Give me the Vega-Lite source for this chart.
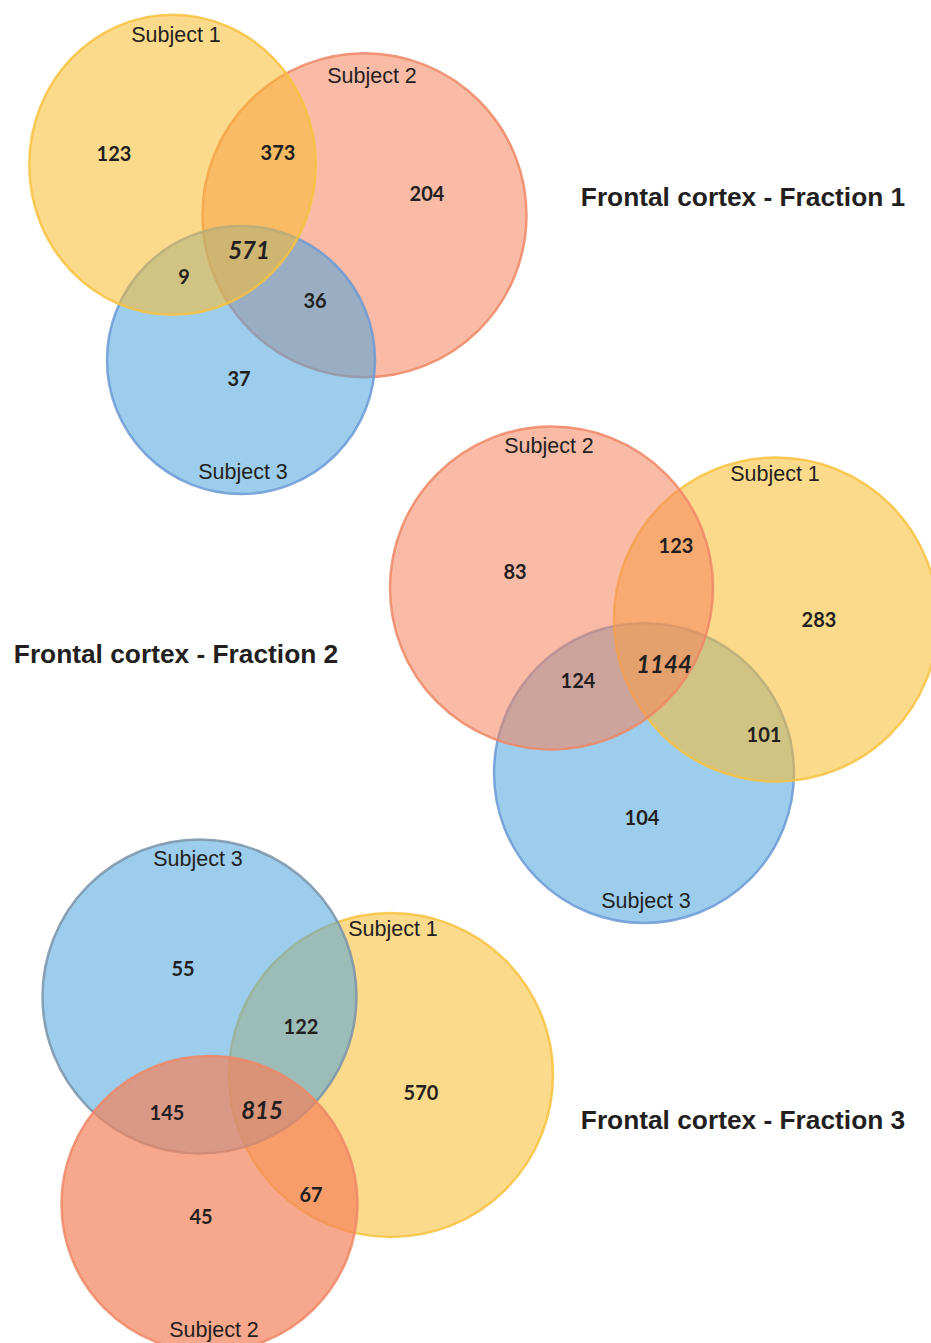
{
  "$schema": "https://vega.github.io/schema/vega-lite/v6.json",
  "width": 931,
  "height": 1343,
  "autosize": "none",
  "padding": 0,
  "background": "white",
  "config": {"view": {"stroke": null}},
  "datasets": {
    "circles": [
      {"panel": "Fraction 1", "subject": "Subject 2", "cx": 364.5, "cy": 215.3, "r": 162},
      {"panel": "Fraction 1", "subject": "Subject 3", "cx": 241, "cy": 360, "r": 134},
      {"panel": "Fraction 1", "subject": "Subject 1", "cx": 172.5, "cy": 164.8, "r": 150},
      {"panel": "Fraction 2", "subject": "Subject 3", "cx": 644, "cy": 773, "r": 150},
      {"panel": "Fraction 2", "subject": "Subject 1", "cx": 776, "cy": 619.5, "r": 162},
      {"panel": "Fraction 2", "subject": "Subject 2", "cx": 551.5, "cy": 588, "r": 161.5},
      {"panel": "Fraction 3", "subject": "Subject 1", "cx": 391, "cy": 1075, "r": 162},
      {"panel": "Fraction 3", "subject": "Subject 3", "cx": 199.5, "cy": 996.5, "r": 157},
      {"panel": "Fraction 3", "subject": "Subject 2", "cx": 209.5, "cy": 1204, "r": 148}
    ],
    "labels": [
      {"kind": "title", "text": "Frontal cortex - Fraction 1", "x": 743, "y": 198},
      {"kind": "title", "text": "Frontal cortex - Fraction 2", "x": 176, "y": 655},
      {"kind": "title", "text": "Frontal cortex - Fraction 3", "x": 743, "y": 1121},
      {"kind": "subject", "text": "Subject 1", "x": 176, "y": 36},
      {"kind": "subject", "text": "Subject 2", "x": 372, "y": 77},
      {"kind": "subject", "text": "Subject 3", "x": 243, "y": 473},
      {"kind": "subject", "text": "Subject 2", "x": 549, "y": 447},
      {"kind": "subject", "text": "Subject 1", "x": 775, "y": 475},
      {"kind": "subject", "text": "Subject 3", "x": 646, "y": 902},
      {"kind": "subject", "text": "Subject 3", "x": 198, "y": 860},
      {"kind": "subject", "text": "Subject 1", "x": 393, "y": 930},
      {"kind": "subject", "text": "Subject 2", "x": 214, "y": 1331},
      {"kind": "count", "text": "123", "x": 114, "y": 154},
      {"kind": "count", "text": "373", "x": 278, "y": 153},
      {"kind": "count", "text": "204", "x": 427, "y": 194},
      {"kind": "core", "text": "571", "x": 249, "y": 251},
      {"kind": "count", "text": "9", "x": 184, "y": 277},
      {"kind": "count", "text": "36", "x": 315, "y": 301},
      {"kind": "count", "text": "37", "x": 239, "y": 379},
      {"kind": "count", "text": "83", "x": 515, "y": 572},
      {"kind": "count", "text": "123", "x": 676, "y": 546},
      {"kind": "count", "text": "283", "x": 819, "y": 620},
      {"kind": "core", "text": "1144", "x": 664, "y": 665},
      {"kind": "count", "text": "124", "x": 578, "y": 681},
      {"kind": "count", "text": "101", "x": 764, "y": 735},
      {"kind": "count", "text": "104", "x": 642, "y": 818},
      {"kind": "count", "text": "55", "x": 183, "y": 969},
      {"kind": "count", "text": "122", "x": 301, "y": 1027},
      {"kind": "count", "text": "570", "x": 421, "y": 1093},
      {"kind": "count", "text": "145", "x": 167, "y": 1113},
      {"kind": "core", "text": "815", "x": 262, "y": 1111},
      {"kind": "count", "text": "67", "x": 311, "y": 1195},
      {"kind": "count", "text": "45", "x": 201, "y": 1217}
    ]
  },
  "layer": [
    {
      "data": {"name": "circles"},
      "mark": {"type": "point", "filled": true, "clip": true, "opacity": 1, "strokeWidth": 2.5, "strokeOpacity": 0.85},
      "encoding": {
        "x": {"field": "cx", "type": "quantitative", "scale": {"domain": [0, 931], "nice": false, "zero": false}, "axis": null},
        "y": {"field": "cy", "type": "quantitative", "scale": {"domain": [0, 1343], "nice": false, "zero": false, "reverse": true}, "axis": null},
        "size": {"field": "r", "type": "quantitative", "scale": {"type": "pow", "exponent": 2, "domain": [0, 200], "range": [0, 160000]}, "legend": null},
        "color": {"field": "subject", "type": "nominal", "scale": {"domain": ["Subject 1", "Subject 2", "Subject 3"], "range": ["#FABC2E", "#F4835B", "#4DA4DC"]}, "legend": null},
        "stroke": {"condition": {"test": "datum.panel === 'Fraction 3' && datum.subject === 'Subject 3'", "value": "#7A93A8"}, "field": "subject", "type": "nominal", "scale": {"domain": ["Subject 1", "Subject 2", "Subject 3"], "range": ["#F7C23F", "#EF8766", "#6B9AD6"]}, "legend": null},
        "fillOpacity": {"condition": {"test": "datum.panel === 'Fraction 3' && datum.subject === 'Subject 2'", "value": 0.7}, "value": 0.55},
        "shape": {"condition": {"test": "datum.panel === 'Fraction 1' && datum.subject === 'Subject 1'", "value": "M 0.955 0 C 0.955 0.5523 0.5274 1 0 1 C -0.5274 1 -0.955 0.5523 -0.955 0 C -0.955 -0.5523 -0.5274 -1 0 -1 C 0.5274 -1 0.955 -0.5523 0.955 0 Z"}, "value": "circle"}
      }
    },
    {
      "data": {"name": "labels"},
      "transform": [{"filter": "datum.kind === 'subject'"}],
      "mark": {"type": "text", "font": "Liberation Sans", "fontSize": 21.5, "color": "#231F20", "align": "center", "baseline": "middle"},
      "encoding": {
        "x": {"field": "x", "type": "quantitative"},
        "y": {"field": "y", "type": "quantitative"},
        "text": {"field": "text"}
      }
    },
    {
      "data": {"name": "labels"},
      "transform": [{"filter": "datum.kind === 'count'"}],
      "mark": {"type": "text", "font": "Lato", "fontWeight": "bold", "fontSize": 20, "color": "#231F20", "align": "center", "baseline": "middle", "dy": 1},
      "encoding": {
        "x": {"field": "x", "type": "quantitative"},
        "y": {"field": "y", "type": "quantitative"},
        "text": {"field": "text"}
      }
    },
    {
      "data": {"name": "labels"},
      "transform": [{"filter": "datum.kind === 'core'"}],
      "mark": {"type": "text", "font": "Lato", "fontWeight": "bold", "fontStyle": "italic", "fontSize": 24, "color": "#231F20", "align": "center", "baseline": "middle", "dy": 1},
      "encoding": {
        "x": {"field": "x", "type": "quantitative"},
        "y": {"field": "y", "type": "quantitative"},
        "text": {"field": "text"}
      }
    },
    {
      "data": {"name": "labels"},
      "transform": [{"filter": "datum.kind === 'title'"}],
      "mark": {"type": "text", "font": "Liberation Sans", "fontWeight": "bold", "fontSize": 26.3, "color": "#231F20", "align": "center", "baseline": "middle"},
      "encoding": {
        "x": {"field": "x", "type": "quantitative"},
        "y": {"field": "y", "type": "quantitative"},
        "text": {"field": "text"}
      }
    }
  ]
}
